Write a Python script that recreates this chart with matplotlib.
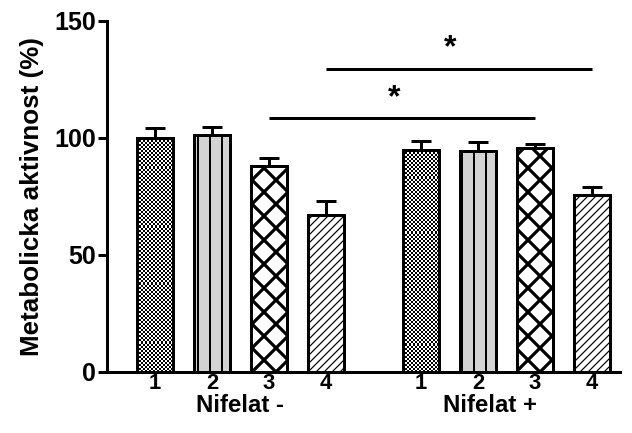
import numpy as np
import matplotlib
matplotlib.use("Agg")
import matplotlib.pyplot as plt

plt.rcParams['font.family'] = ['Liberation Sans', 'DejaVu Sans']
plt.rcParams['font.weight'] = 'bold'

# donnees : activite metabolique (%) et erreur (barre superieure seulement)
groupes = ["Nifelat -", "Nifelat +"]
conditions = ["1", "2", "3", "4"]
moy_moins = [100, 101.2, 88.0, 66.8]
err_moins = [4.1, 3.4, 3.2, 6.3]
moy_plus = [94.6, 94.1, 95.7, 75.5]
err_plus = [4.1, 4.2, 1.6, 3.6]

# comparaisons significatives : (indice barre gauche, indice barre droite, hauteur)
comparaisons = [(2, 6, 108.3), (3, 7, 129.2)]
etoiles_x = [4.19, 5.18]
etoiles_y = [117.0, 138.3]

decalage = 4.67   # position du second groupe
largeur = 0.63

pos = np.concatenate([np.arange(4), np.arange(4) + decalage])
moyennes = np.array(moy_moins + moy_plus)
erreurs = np.array(err_moins + err_plus)
motifs = ['damier', '|', 'x', '///'] * 2
fonds = ['white', '#d3d3d3', 'white', 'white'] * 2
ep_motif = [1.0, 2.0, 3.2, 1.2] * 2

fig = plt.figure(figsize=(632 / 72, 433 / 72), dpi=72)
ax = fig.add_axes([0.1698, 0.1416, 0.981 - 0.1698, 0.9522 - 0.1416])

for i in range(len(pos)):
    hatch = None if motifs[i] == 'damier' else motifs[i]
    b = ax.bar(pos[i], moyennes[i], width=largeur, color=fonds[i],
               edgecolor='black', linewidth=3, hatch=hatch, zorder=3)[0]
    if hasattr(b, 'set_hatch_linewidth'):
        b.set_hatch_linewidth(ep_motif[i])
    if motifs[i] == 'damier':
        # damier fin dessine en image, decoupe a la forme de la barre
        nc = int(round(largeur / 0.036))
        nl = int(round(moyennes[i] / 0.87))
        damier = np.indices((nl, nc)).sum(axis=0) % 2
        im = ax.imshow(damier, cmap='gray', interpolation='nearest', aspect='auto',
                       extent=[pos[i] - largeur / 2, pos[i] + largeur / 2, 0, moyennes[i]],
                       zorder=3.5)
        im.set_clip_path(b)
        ax.bar(pos[i], moyennes[i], width=largeur, color='none',
               edgecolor='black', linewidth=3, zorder=4)

ax.errorbar(pos, moyennes, yerr=[np.zeros_like(erreurs), erreurs], fmt='none',
            ecolor='black', elinewidth=3, capsize=10, capthick=3, zorder=2)

for g, d, h in comparaisons:
    ax.plot([pos[g], pos[d]], [h, h], color='black', lw=3, solid_capstyle='butt')
for x, y in zip(etoiles_x, etoiles_y):
    ax.text(x, y, '*', ha='center', va='center', fontsize=32, fontweight='bold')

ax.set_xlim(-0.837, 8.16)
ax.set_ylim(0, 150)
ax.set_yticks([0, 50, 100, 150])
ax.set_xticks(pos)
ax.set_xticklabels(conditions * 2)
ax.tick_params(axis='y', length=9, width=3, pad=2, labelsize=25)
ax.tick_params(axis='x', length=0, pad=1, labelsize=22)
for s in ['top', 'right']:
    ax.spines[s].set_visible(False)
for s in ['left', 'bottom']:
    ax.spines[s].set_linewidth(3)

ax.set_ylabel("Metabolicka aktivnost (%)", fontsize=26, fontweight='bold', labelpad=11)

for x, nom in zip([1.5, 5.87], groupes):
    ax.text(x, -0.097, nom, transform=ax.get_xaxis_transform(),
            ha='center', va='center', fontsize=24, fontweight='bold')

fig.savefig("out.png", dpi=72)
